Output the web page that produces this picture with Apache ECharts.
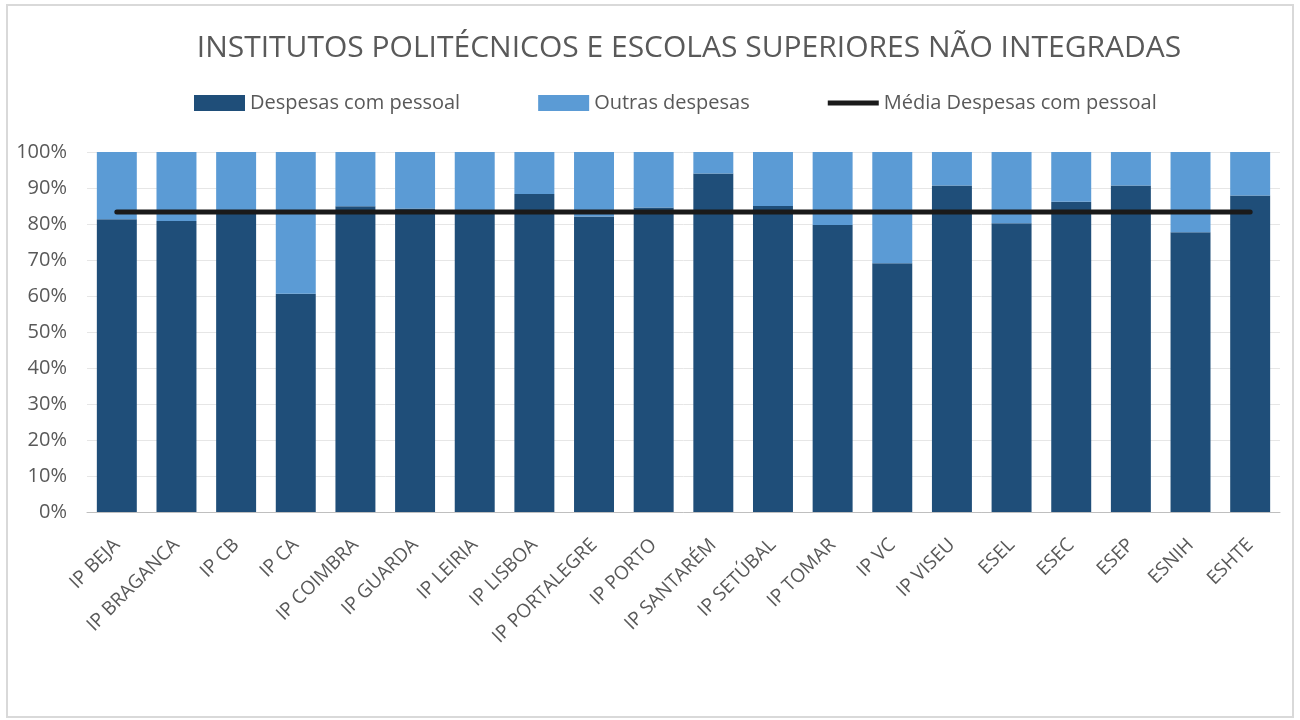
<!DOCTYPE html>
<html>
<head>
<meta charset="utf-8">
<script src="https://cdn.jsdelivr.net/npm/echarts@6/dist/echarts.min.js"></script>
<style>
  html, body { margin: 0; padding: 0; background: #fff; }
  #chart { width: 1300px; height: 720px; }
</style>
</head>
<body>
<div id="chart"></div>
<script>
// categories and values (share of total expenses, %)
var categories = ['IP BEJA', 'IP BRAGANCA', 'IP CB', 'IP CA', 'IP COIMBRA', 'IP GUARDA', 'IP LEIRIA',
    'IP LISBOA', 'IP PORTALEGRE', 'IP PORTO', 'IP SANTARÉM', 'IP SETÚBAL', 'IP TOMAR', 'IP VC',
    'IP VISEU', 'ESEL', 'ESEC', 'ESEP', 'ESNIH', 'ESHTE'];
var pessoal = [81.3, 80.8, 83.0, 60.6, 84.9, 84.3, 83.4, 88.3, 82.1, 84.6, 94.0, 85.0, 79.7, 69.1,
    90.7, 80.2, 86.2, 90.7, 77.7, 87.9];
var outras = [18.7, 19.2, 17.0, 39.4, 15.1, 15.7, 16.6, 11.7, 17.9, 15.4, 6.0, 15.0, 20.3, 30.9,
    9.3, 19.8, 13.8, 9.3, 22.3, 12.1];
var mediaPessoal = 83.3;
var yTicks = [0, 10, 20, 30, 40, 50, 60, 70, 80, 90, 100];

var mediaData = [];
for (var i = 0; i < categories.length; i++) {
    mediaData.push(mediaPessoal);
}

var txt = '#595959';
var font = '"Open Sans", "Noto Sans", sans-serif';

var chart = echarts.init(document.getElementById('chart'));
var option = {
    animation: false,
    textStyle: { fontFamily: font, color: txt },
    title: {
        text: 'INSTITUTOS POLITÉCNICOS E ESCOLAS SUPERIORES NÃO INTEGRADAS',
        left: 684,
        textAlign: 'center',
        top: 28,
        textStyle: { fontFamily: font, fontSize: 30, fontWeight: 'normal', color: txt }
    },
    graphic: [{
        type: 'rect',
        shape: { x: 7, y: 5, width: 1286, height: 712 },
        style: { fill: 'none', stroke: '#d9d9d9', lineWidth: 2 },
        silent: true
    }],
    legend: {
        top: 88,
        left: 189,
        itemGap: 78,
        itemWidth: 51,
        itemHeight: 16,
        textStyle: { fontFamily: font, fontSize: 20, color: txt },
        data: [
            { name: 'Despesas com pessoal', icon: 'rect' },
            { name: 'Outras despesas', icon: 'rect' },
            { name: 'Média Despesas com pessoal', icon: 'path://M0,0 L50,0 L50,5 L0,5 Z' }
        ]
    },
    grid: { left: 87, right: 20, top: 152, bottom: 208 },
    xAxis: {
        type: 'category',
        data: categories,
        axisLine: { lineStyle: { color: '#bfbfbf' } },
        axisTick: { show: false },
        axisLabel: { rotate: 45, fontSize: 19, color: txt, fontFamily: font, margin: 30, interval: 0 }
    },
    yAxis: {
        type: 'value',
        min: 0,
        max: 100,
        interval: 10,
        axisLine: { show: false },
        axisTick: { show: false },
        splitLine: { lineStyle: { color: '#e6e6e6', width: 1 } },
        axisLabel: {
            fontSize: 20, color: txt, fontFamily: font, margin: 20,
            formatter: function (v) { return yTicks.indexOf(v) >= 0 ? v + '%' : ''; }
        }
    },
    series: [
        {
            name: 'Despesas com pessoal',
            type: 'bar',
            stack: 'total',
            barWidth: '67%',
            itemStyle: { color: '#1f4e79' },
            data: pessoal
        },
        {
            name: 'Outras despesas',
            type: 'bar',
            stack: 'total',
            barWidth: '67%',
            itemStyle: { color: '#5b9bd5' },
            data: outras
        },
        {
            name: 'Média Despesas com pessoal',
            type: 'line',
            symbol: 'none',
            z: 5,
            itemStyle: { color: '#1a1a1a' },
            lineStyle: { color: '#1a1a1a', width: 5, cap: 'round' },
            data: mediaData
        }
    ]
};
chart.setOption(option);
</script>
</body>
</html>
